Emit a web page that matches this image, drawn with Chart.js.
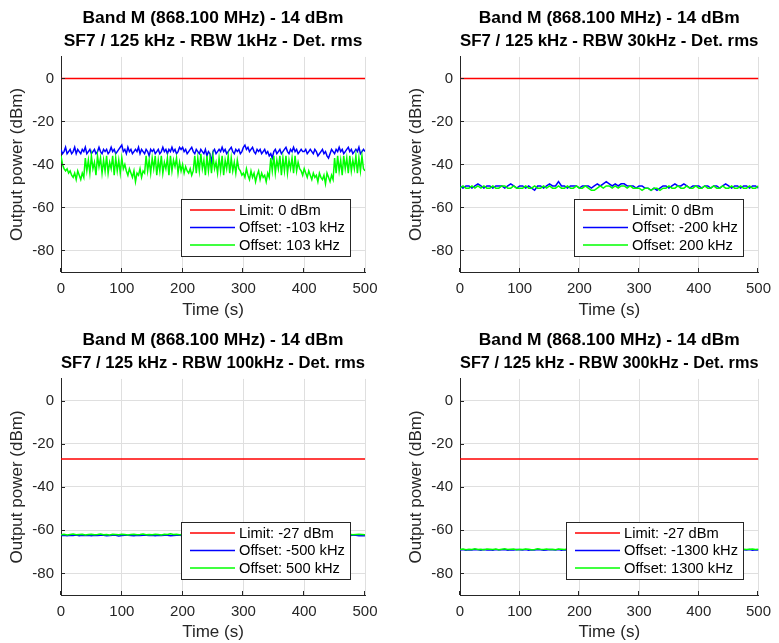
<!DOCTYPE html>
<html><head><meta charset="utf-8">
<script src="https://cdn.jsdelivr.net/npm/chart.js@4.4.1/dist/chart.umd.min.js"></script>
<style>
html,body{margin:0;padding:0;background:#fff;width:779px;height:643px;overflow:hidden}
canvas{position:absolute;display:block}
</style></head><body>
<canvas id="c1" width="390" height="321" style="left:0px;top:0px"></canvas>
<canvas id="c2" width="380" height="321" style="left:399px;top:0px"></canvas>
<canvas id="c3" width="390" height="321" style="left:0px;top:322px"></canvas>
<canvas id="c4" width="380" height="321" style="left:399px;top:322px"></canvas>
<script>
// ---------- DATA ----------
const timeFine = [0,2.5,5,7.5,10,12.5,15,17.5,20,22.5,25,27.5,30,32.5,35,37.5,40,42.5,45,47.5,
50,52.5,55,57.5,60,62.5,65,67.5,70,72.5,75,77.5,80,82.5,85,87.5,90,92.5,95,97.5,
100,102.5,105,107.5,110,112.5,115,117.5,120,122.5,125,127.5,130,132.5,135,137.5,140,142.5,145,147.5,
150,152.5,155,157.5,160,162.5,165,167.5,170,172.5,175,177.5,180,182.5,185,187.5,190,192.5,195,197.5,
200,202.5,205,207.5,210,212.5,215,217.5,220,222.5,225,227.5,230,232.5,235,237.5,240,242.5,245,247.5,
250,252.5,255,257.5,260,262.5,265,267.5,270,272.5,275,277.5,280,282.5,285,287.5,290,292.5,295,297.5,
300,302.5,305,307.5,310,312.5,315,317.5,320,322.5,325,327.5,330,332.5,335,337.5,340,342.5,345,347.5,
350,352.5,355,357.5,360,362.5,365,367.5,370,372.5,375,377.5,380,382.5,385,387.5,390,392.5,395,397.5,
400,402.5,405,407.5,410,412.5,415,417.5,420,422.5,425,427.5,430,432.5,435,437.5,440,442.5,445,447.5,
450,452.5,455,457.5,460,462.5,465,467.5,470,472.5,475,477.5,480,482.5,485,487.5,490,492.5,495,497.5,500];

const timeS = [0,5,10,15,20,25,30,35,40,45,50,55,60,65,70,75,80,85,90,95,
100,105,110,115,120,125,130,135,140,145,150,155,160,165,170,175,180,185,190,195,
200,205,210,215,220,225,230,235,240,245,250,255,260,265,270,275,280,285,290,295,
300,305,310,315,320,325,330,335,340,345,350,355,360,365,370,375,380,385,390,395,
400,405,410,415,420,425,430,435,440,445,450,455,460,465,470,475,480,485,490,495,500];

const titleLine1 = "Band M (868.100 MHz) - 14 dBm";
const rbwLabels = ["RBW 1kHz", "RBW 30kHz", "RBW 100kHz", "RBW 300kHz"];
const limitValues = [0, 0, -27, -27];
const offsetKHz = [103, 200, 500, 1300];
const xTicks = [0, 100, 200, 300, 400, 500];
const yTicks = [-80, -60, -40, -20, 0];

// Panel 1 (RBW 1 kHz), sampled on timeFine
const neg1 = [-33,-35,-34,-32,-35,-34,-33,-35,-34,-32,
-35,-33,-34,-35,-33,-34,-32,-35,-34,-33,
-35,-34,-33,-35,-34,-32,-34,-35,-33,-34,
-33,-35,-34,-32,-34,-33,-35,-34,-33,-32,
-31,-34,-33,-35,-32,-34,-33,-35,-34,-33,
-34,-32,-35,-33,-34,-35,-33,-34,-36,-33,
-34,-33,-35,-34,-33,-35,-34,-32,-34,-33,
-35,-33,-34,-32,-34,-33,-35,-34,-32,-33,
-32,-34,-33,-35,-34,-33,-32,-34,-35,-33,
-34,-35,-33,-34,-35,-33,-36,-34,-35,-39,
-34,-33,-35,-34,-33,-34,-32,-34,-33,-35,
-34,-33,-32,-34,-35,-33,-34,-33,-35,-34,
-32,-31,-33,-32,-34,-33,-32,-34,-35,-33,
-34,-33,-35,-34,-33,-35,-34,-36,-35,-37,
-34,-33,-35,-34,-33,-35,-34,-33,-32,-34,
-35,-33,-34,-32,-34,-33,-35,-34,-33,-34,
-34,-33,-35,-34,-33,-34,-35,-33,-34,-36,
-35,-34,-33,-35,-34,-36,-37,-35,-33,-34,
-35,-33,-34,-32,-34,-33,-35,-34,-33,-32,
-34,-33,-35,-34,-33,-34,-32,-35,-34,-33,-34];
const pos1 = [-36,-40,-42,-43,-42,-44,-43,-45,-46,-44,-47,-43,-45,-47,-44,-46,
-37,-43,-38,-44,-36,-42,-39,-45,-36,-41,-37,-44,-38,-43,-36,-44,-39,-42,-36,-45,-37,-43,-38,-44,-37,-42,-40,
-43,-45,-42,-44,-46,-43,-48,-44,-45,-42,-46,-43,-44,
-36,-43,-38,-44,-37,-42,-36,-45,-38,-43,-36,-44,-39,-42,-37,-45,-36,-43,-38,-41,-37,-44,-39,-43,-40,-44,-41,-43,
-44,-42,-45,-43,
-36,-44,-37,-43,-35,-42,-38,-45,-36,-43,-37,-44,-36,-42,-39,-44,-37,-43,-36,-45,-38,-42,-36,-44,-37,-43,-39,-44,-38,-42,
-43,-45,-44,-46,-42,-45,-47,-43,-46,-44,-48,-45,-43,-47,-44,-46,-45,-48,-44,-46,
-37,-43,-36,-44,-38,-42,-36,-45,-37,-43,-36,-44,-38,-42,-37,-44,-36,-43,-39,-42,
-43,-45,-42,-44,-46,-43,-45,-47,-44,-46,-45,-48,-44,-46,-47,-45,-49,-44,-46,-48,-45,-47,
-37,-44,-36,-43,-38,-45,-36,-42,-37,-44,-36,-43,-38,-42,-36,-44,-37,-43,-36,-42,-43];

// Panel 2 (RBW 30 kHz), sampled on timeS
const neg2 = [-50,-51,-50,-50,-51,-50,-49,-50,-51,-50,
-50,-51,-50,-50,-50,-51,-50,-49,-50,-51,
-50,-50,-51,-50,-51,-52,-50,-50,-51,-50,
-49,-50,-50,-48,-50,-50,-51,-50,-50,-50,
-51,-50,-50,-50,-51,-50,-49,-50,-49,-48,
-49,-50,-49,-50,-49,-49,-50,-50,-50,-51,
-50,-50,-51,-51,-52,-51,-52,-51,-50,-50,
-51,-50,-49,-50,-50,-49,-50,-51,-50,-50,
-50,-51,-50,-50,-51,-50,-50,-51,-50,-49,
-50,-51,-50,-50,-51,-50,-50,-51,-50,-50,-51];
const pos2 = [-51,-50,-51,-51,-50,-51,-50,-51,-50,-51,
-51,-50,-51,-51,-50,-50,-51,-51,-50,-51,
-51,-51,-50,-51,-51,-50,-51,-51,-50,-51,
-50,-51,-51,-50,-51,-51,-50,-51,-51,-50,
-51,-51,-50,-51,-52,-52,-51,-50,-51,-50,
-50,-51,-50,-51,-50,-50,-51,-50,-51,-51,
-51,-52,-51,-51,-52,-51,-51,-52,-51,-51,
-50,-51,-51,-50,-51,-51,-50,-51,-51,-50,
-51,-51,-50,-51,-51,-50,-51,-51,-50,-51,
-51,-50,-51,-51,-50,-51,-51,-50,-51,-51,-50];

// Panel 3 (RBW 100 kHz), sampled on timeS
const neg3 = [-62.5,-62.3,-62.6,-62.4,-62.5,-62.2,-62.6,-62.4,-62.5,-62.3,
-62.6,-62.4,-62.5,-62.3,-62.4,-62.6,-62.5,-62.3,-62.4,-62.7,
-62.5,-62.4,-62.3,-62.5,-62.6,-62.4,-62.5,-62.3,-62.4,-62.5,
-62.3,-62.6,-62.4,-62.5,-62.3,-62.4,-62.6,-62.5,-62.3,-62.4,
-62.5,-62.4,-62.6,-62.3,-62.5,-62.4,-62.5,-62.6,-62.3,-62.4,
-62.5,-62.3,-62.4,-62.6,-62.5,-62.4,-62.3,-62.5,-62.4,-62.6,
-62.4,-62.5,-62.3,-62.4,-62.6,-62.5,-62.4,-62.3,-62.5,-62.4,
-62.6,-62.4,-62.5,-62.3,-62.4,-62.5,-62.6,-62.4,-62.3,-62.5,
-62.4,-62.6,-62.5,-62.3,-62.4,-62.5,-62.4,-62.6,-62.3,-62.5,
-62.4,-62.5,-62.3,-62.6,-62.4,-62.5,-62.4,-62.3,-62.6,-62.5,-62.6];
const pos3 = [-62.1,-61.9,-62.2,-62.0,-61.8,-62.1,-62.0,-61.9,-62.2,-62.0,
-61.9,-62.1,-62.0,-61.8,-62.1,-62.0,-62.2,-61.9,-62.0,-62.1,
-61.9,-62.0,-62.2,-62.0,-61.9,-62.1,-62.0,-61.8,-62.1,-62.0,
-62.1,-61.9,-62.0,-62.2,-61.9,-62.0,-61.7,-62.0,-61.9,-62.1,
-62.0,-61.9,-62.1,-62.0,-61.8,-62.0,-62.1,-61.9,-62.0,-62.2,
-62.0,-61.9,-62.1,-62.0,-61.8,-62.1,-62.0,-61.9,-62.1,-62.0,
-62.2,-61.9,-62.0,-62.1,-61.9,-62.0,-62.1,-61.8,-62.0,-62.1,
-61.9,-62.0,-62.2,-62.0,-61.9,-62.1,-62.0,-61.9,-62.1,-62.0,
-62.0,-61.8,-62.1,-62.0,-62.2,-61.9,-62.0,-62.1,-61.9,-62.0,
-62.1,-62.0,-61.9,-62.2,-62.0,-61.9,-62.1,-62.0,-61.9,-62.0,-62.1];

// Panel 4 (RBW 300 kHz), sampled on timeS
const neg4 = [-69.2,-69.0,-69.3,-69.1,-69.2,-68.9,-69.1,-69.3,-69.0,-69.2,
-69.1,-69.3,-69.0,-69.2,-69.1,-69.0,-69.3,-69.1,-69.2,-69.0,
-69.1,-69.2,-69.0,-69.3,-69.1,-69.2,-69.0,-69.1,-69.3,-69.2,
-69.0,-69.1,-69.2,-69.0,-69.3,-69.1,-69.2,-69.1,-69.0,-69.2,
-69.3,-69.1,-69.0,-69.2,-69.1,-69.3,-69.0,-69.2,-69.1,-69.0,
-69.2,-69.1,-69.3,-69.0,-69.2,-69.1,-69.0,-69.2,-69.3,-69.1,
-69.0,-69.2,-69.1,-69.3,-69.0,-69.1,-69.2,-69.0,-69.1,-69.3,
-69.2,-69.0,-69.1,-69.2,-69.3,-69.1,-69.0,-69.2,-69.1,-69.0,
-69.3,-69.1,-69.2,-69.0,-69.1,-69.2,-69.3,-69.0,-69.1,-69.2,
-69.0,-69.2,-69.1,-69.3,-69.0,-69.1,-69.2,-69.0,-69.3,-69.1,-69.2];
const pos4 = [-68.9,-68.7,-69.0,-68.8,-68.9,-68.6,-68.9,-68.8,-69.0,-68.7,
-68.8,-68.9,-68.7,-69.0,-68.8,-68.6,-68.9,-68.8,-68.7,-69.0,
-68.8,-68.9,-68.7,-68.8,-69.0,-68.9,-68.6,-68.8,-68.9,-68.7,
-68.9,-68.8,-69.0,-68.7,-68.8,-68.9,-68.7,-68.8,-69.0,-68.8,
-68.7,-68.9,-68.8,-68.6,-68.9,-68.8,-68.7,-69.0,-68.8,-68.9,
-68.8,-68.7,-68.9,-68.8,-69.0,-68.7,-68.8,-68.9,-68.7,-68.8,
-68.9,-68.8,-68.7,-69.0,-68.8,-68.9,-68.7,-68.8,-68.6,-68.9,
-68.8,-68.9,-68.7,-68.8,-69.0,-68.8,-68.7,-68.9,-68.8,-68.7,
-68.9,-68.8,-69.0,-68.7,-68.8,-68.9,-68.7,-68.8,-68.9,-68.8,
-68.7,-68.9,-68.8,-69.0,-68.7,-68.8,-68.9,-68.8,-68.7,-68.9,-68.8];

const panelTimes = [timeFine, timeS, timeS, timeS];
const negSeries = [neg1, neg2, neg3, neg4];
const posSeries = [pos1, pos2, pos3, pos4];

// ---------- RENDERING ----------
const FONT = '"Liberation Sans", Arial, Helvetica, sans-serif';
const AX = '#262626';

const inwardTicks = {
  id: 'inwardTicks',
  afterDraw(chart) {
    const {ctx, chartArea: a, scales: {x, y}} = chart;
    ctx.save();
    ctx.strokeStyle = AX; ctx.lineWidth = 1;
    ctx.beginPath();
    x.ticks.forEach(t => {
      const px = Math.round(x.getPixelForValue(t.value)) - 0.5;
      ctx.moveTo(px, a.bottom); ctx.lineTo(px, a.bottom - 4);
    });
    y.ticks.forEach(t => {
      const py = Math.round(y.getPixelForValue(t.value)) + 0.5;
      ctx.moveTo(a.left, py); ctx.lineTo(a.left + 4, py);
    });
    ctx.stroke();
    ctx.restore();
  }
};

const boxLegend = {
  id: 'boxLegend',
  afterDatasetsDraw(chart) {
    const {ctx, chartArea: a} = chart;
    const ds = chart.data.datasets;
    ctx.save();
    ctx.font = '14.7px ' + FONT;
    const maxW = Math.max(...ds.map(d => ctx.measureText(d.label).width));
    const rowH = 17.5;
    const w = Math.round(9 + 45 + 4 + maxW + 5);
    const h = Math.round(11 * 2 + rowH * (ds.length - 1));
    const right = Math.round(a.right - 15);
    const bottom = Math.round(a.bottom - 16);
    const left = right - w, top = bottom - h;
    ctx.fillStyle = '#ffffff';
    ctx.fillRect(left, top, w, h);
    ctx.strokeStyle = AX; ctx.lineWidth = 1;
    ctx.strokeRect(left + 0.5, top + 0.5, w, h);
    ds.forEach((d, i) => {
      const cy = top + 11 + i * rowH;
      ctx.strokeStyle = d.borderColor; ctx.lineWidth = 1.5;
      ctx.beginPath(); ctx.moveTo(left + 9, cy); ctx.lineTo(left + 54, cy); ctx.stroke();
      ctx.fillStyle = '#000000';
      ctx.textBaseline = 'middle'; ctx.textAlign = 'left';
      ctx.fillText(d.label, left + 58, cy + 0.5);
    });
    ctx.restore();
  }
};

const panels = [
  {id: 'c1', H: 321, plotTop: 57, plotBottom: 272, padRight: 25},
  {id: 'c2', H: 321, plotTop: 57, plotBottom: 272, padRight: 15},
  {id: 'c3', H: 321, plotTop: 57, plotBottom: 273, padRight: 25},
  {id: 'c4', H: 321, plotTop: 57, plotBottom: 273, padRight: 15}
];

panels.forEach((p, k) => {
  const lim = limitValues[k];
  const off = offsetKHz[k];
  const tt = panelTimes[k];
  const xH = p.H - p.plotBottom;
  const titlePadBottom = p.plotTop - 46 - 6.5;
  new Chart(document.getElementById(p.id), {
    type: 'line',
    data: {
      datasets: [
        {label: 'Limit: ' + lim + ' dBm', data: [{x: 0, y: lim}, {x: 500, y: lim}],
         borderColor: '#ff0000', borderWidth: 1.5, order: 2},
        {label: 'Offset: -' + off + ' kHz', data: tt.map((t, i) => ({x: t, y: negSeries[k][i]})),
         borderColor: '#0000ff', borderWidth: 1.5, order: 1},
        {label: 'Offset: ' + off + ' kHz', data: tt.map((t, i) => ({x: t, y: posSeries[k][i]})),
         borderColor: '#00ff00', borderWidth: 1.5, order: 0}
      ]
    },
    options: {
      responsive: false,
      animation: false,
      events: [],
      elements: {point: {radius: 0}, line: {tension: 0}},
      layout: {padding: {left: 0, right: p.padRight, top: 0, bottom: 0}},
      plugins: {
        legend: {display: false},
        tooltip: {enabled: false},
        title: {
          display: true, fullSize: false,
          text: [titleLine1, 'SF7 / 125 kHz - ' + rbwLabels[k] + ' - Det. rms'],
          color: '#000000',
          font: {family: FONT, size: 17.4, weight: 'bold', lineHeight: 1.32},
          padding: {top: 6.5, bottom: titlePadBottom}
        }
      },
      scales: {
        x: {
          type: 'linear', min: 0, max: 500,
          afterBuildTicks: s => { s.ticks = xTicks.map(v => ({value: v})); },
          afterFit: s => { s.height = xH; },
          grid: {color: '#dfdfdf', drawTicks: false, lineWidth: 1},
          border: {color: AX, width: 1},
          ticks: {color: AX, padding: 8, maxRotation: 0, font: {family: FONT, size: 15}},
          title: {display: true, text: 'Time (s)', color: AX, padding: {top: 0, bottom: 0.5},
                  font: {family: FONT, size: 17}}
        },
        y: {
          type: 'linear', min: -90, max: 10,
          afterBuildTicks: s => { s.ticks = yTicks.map(v => ({value: v})); },
          afterFit: s => { s.width = 61; },
          grid: {color: '#dfdfdf', drawTicks: false, lineWidth: 1},
          border: {color: AX, width: 1},
          ticks: {color: AX, padding: 7, font: {family: FONT, size: 15}},
          title: {display: true, text: 'Output power (dBm)', color: AX, padding: {top: 7, bottom: 0},
                  font: {family: FONT, size: 17}}
        }
      }
    },
    plugins: [boxLegend, inwardTicks]
  });
});
</script>
</body></html>
